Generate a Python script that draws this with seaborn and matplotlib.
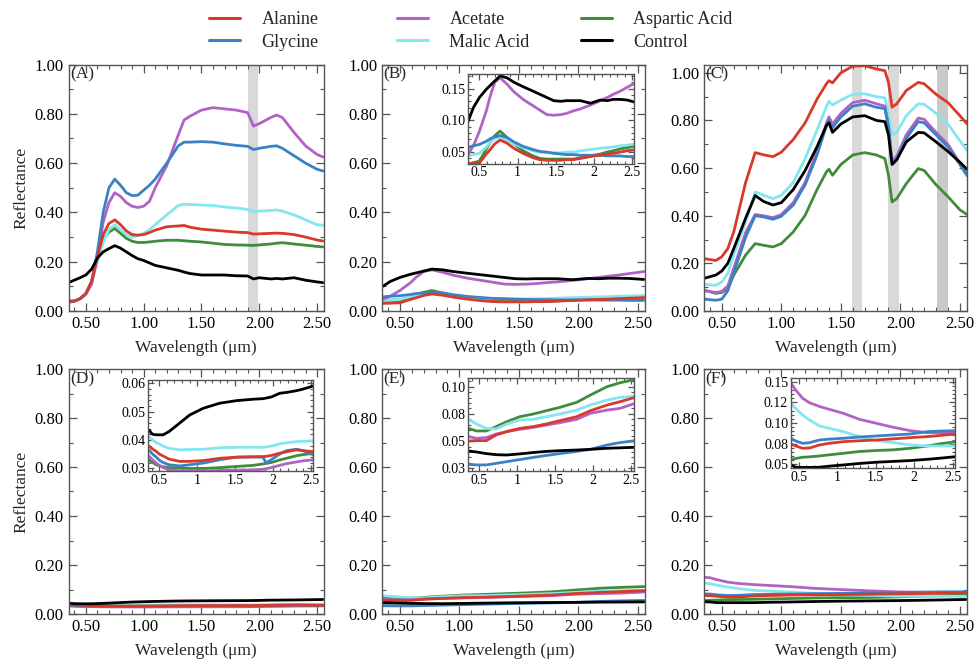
import matplotlib
matplotlib.use("Agg")
import numpy as np
import pandas as pd
import matplotlib.pyplot as plt
import seaborn as sns
from matplotlib.ticker import FixedLocator, FixedFormatter, MultipleLocator
from matplotlib.lines import Line2D

# ---------------- data ----------------
series_names = ["Alanine", "Glycine", "Acetate", "Malic Acid", "Aspartic Acid", "Control"]
series_colors = ["#d9392b", "#3b82c4", "#b262c6", "#84e6ee", "#3f8d3a", "#000000"]
draw_order = ["Aspartic Acid", "Malic Acid", "Acetate", "Glycine", "Alanine", "Control"]

# Panel A
wl_A = [0.35, 0.40, 0.45, 0.50, 0.55, 0.60, 0.65, 0.70, 0.75, 0.80, 0.85, 0.90, 0.95, 1.00, 1.05, 1.10,
        1.20, 1.30, 1.35, 1.40, 1.50, 1.60, 1.70, 1.80, 1.90, 1.95, 2.00, 2.10, 2.15, 2.20, 2.30, 2.40, 2.50, 2.55]
alanine_A = [0.04, 0.04, 0.05, 0.07, 0.12, 0.22, 0.31, 0.355, 0.37, 0.35, 0.325, 0.31, 0.308, 0.31, 0.318, 0.328,
             0.342, 0.345, 0.347, 0.34, 0.332, 0.328, 0.324, 0.32, 0.318, 0.312, 0.313, 0.315, 0.316, 0.315, 0.31, 0.30, 0.288, 0.284]
glycine_A = [0.035, 0.04, 0.05, 0.07, 0.12, 0.24, 0.40, 0.50, 0.535, 0.51, 0.48, 0.468, 0.47, 0.49, 0.51, 0.535,
             0.60, 0.67, 0.685, 0.685, 0.687, 0.685, 0.678, 0.672, 0.668, 0.655, 0.66, 0.668, 0.67, 0.66, 0.63, 0.60, 0.575, 0.568]
acetate_A = [0.038, 0.04, 0.05, 0.07, 0.11, 0.22, 0.36, 0.44, 0.48, 0.465, 0.44, 0.425, 0.42, 0.425, 0.445, 0.50,
             0.59, 0.715, 0.775, 0.79, 0.815, 0.825, 0.82, 0.815, 0.805, 0.75, 0.76, 0.785, 0.795, 0.785, 0.725, 0.67, 0.635, 0.625]
malic_A = [0.04, 0.04, 0.05, 0.065, 0.11, 0.20, 0.28, 0.33, 0.35, 0.33, 0.31, 0.30, 0.305, 0.315, 0.33, 0.35,
           0.39, 0.428, 0.433, 0.432, 0.43, 0.428, 0.422, 0.418, 0.412, 0.403, 0.405, 0.408, 0.41, 0.405, 0.39, 0.37, 0.35, 0.348]
aspartic_A = [0.04, 0.04, 0.05, 0.07, 0.12, 0.22, 0.29, 0.32, 0.335, 0.315, 0.295, 0.283, 0.278, 0.278, 0.28, 0.283,
              0.287, 0.287, 0.285, 0.283, 0.28, 0.275, 0.27, 0.268, 0.267, 0.266, 0.268, 0.272, 0.275, 0.277, 0.272, 0.267, 0.262, 0.26]
control_A = [0.115, 0.125, 0.135, 0.146, 0.17, 0.215, 0.24, 0.253, 0.265, 0.255, 0.24, 0.225, 0.212, 0.205, 0.195, 0.185,
             0.175, 0.165, 0.158, 0.152, 0.146, 0.146, 0.146, 0.143, 0.142, 0.13, 0.135, 0.13, 0.132, 0.13, 0.135, 0.125, 0.118, 0.115]

# Panel B
wl_B = [0.35, 0.42, 0.50, 0.59, 0.64, 0.70, 0.77, 0.86, 0.95, 1.07, 1.20, 1.29, 1.38, 1.47, 1.56, 1.64, 1.73,
        1.82, 1.95, 2.08, 2.17, 2.25, 2.34, 2.43, 2.55]
alanine_B = [0.032, 0.032, 0.033, 0.047, 0.054, 0.063, 0.069, 0.064, 0.056, 0.048, 0.041, 0.038, 0.037, 0.037, 0.037,
             0.038, 0.038, 0.040, 0.043, 0.045, 0.047, 0.048, 0.050, 0.052, 0.054]
glycine_B = [0.057, 0.060, 0.062, 0.067, 0.071, 0.074, 0.076, 0.073, 0.066, 0.059, 0.054, 0.051, 0.050, 0.048, 0.047,
             0.046, 0.046, 0.045, 0.045, 0.045, 0.044, 0.044, 0.044, 0.043, 0.043]
acetate_B = [0.046, 0.060, 0.083, 0.115, 0.138, 0.160, 0.167, 0.157, 0.145, 0.133, 0.123, 0.116, 0.109, 0.108, 0.109,
             0.111, 0.115, 0.118, 0.124, 0.131, 0.136, 0.141, 0.146, 0.152, 0.160]
malic_B = [0.044, 0.046, 0.048, 0.058, 0.065, 0.071, 0.074, 0.069, 0.063, 0.057, 0.052, 0.050, 0.049, 0.049, 0.049,
           0.050, 0.050, 0.052, 0.054, 0.056, 0.057, 0.058, 0.060, 0.061, 0.063]
aspartic_B = [0.032, 0.033, 0.036, 0.055, 0.065, 0.076, 0.083, 0.073, 0.063, 0.052, 0.044, 0.040, 0.039, 0.039, 0.039,
              0.039, 0.039, 0.041, 0.044, 0.047, 0.050, 0.052, 0.055, 0.057, 0.060]
control_B = [0.098, 0.120, 0.136, 0.149, 0.155, 0.162, 0.170, 0.167, 0.160, 0.153, 0.146, 0.141, 0.136, 0.131, 0.130,
             0.131, 0.131, 0.131, 0.127, 0.132, 0.131, 0.133, 0.133, 0.132, 0.128]

# Panel C
wl_C = [0.35, 0.45, 0.50, 0.55, 0.60, 0.70, 0.78, 0.85, 0.93, 1.00, 1.10, 1.20, 1.30, 1.38, 1.40, 1.43, 1.50,
        1.60, 1.70, 1.80, 1.87, 1.90, 1.93, 1.97, 2.05, 2.15, 2.20, 2.30, 2.40, 2.50, 2.56]
alanine_C = [0.22, 0.212, 0.228, 0.262, 0.332, 0.54, 0.665, 0.656, 0.648, 0.667, 0.72, 0.79, 0.89, 0.955, 0.967, 0.958,
             1.0, 1.028, 1.03, 1.016, 1.009, 0.96, 0.856, 0.87, 0.926, 0.96, 0.954, 0.91, 0.875, 0.82, 0.786]
glycine_C = [0.05, 0.045, 0.05, 0.085, 0.16, 0.31, 0.40, 0.395, 0.385, 0.398, 0.445, 0.53, 0.655, 0.78, 0.80, 0.77,
             0.815, 0.86, 0.87, 0.855, 0.85, 0.77, 0.62, 0.64, 0.725, 0.795, 0.79, 0.74, 0.69, 0.615, 0.568]
acetate_C = [0.085, 0.078, 0.082, 0.105, 0.18, 0.33, 0.405, 0.40, 0.392, 0.405, 0.455, 0.54, 0.67, 0.79, 0.815, 0.785,
             0.83, 0.875, 0.885, 0.87, 0.86, 0.78, 0.63, 0.65, 0.74, 0.81, 0.805, 0.75, 0.70, 0.62, 0.575]
malic_C = [0.112, 0.108, 0.122, 0.158, 0.235, 0.374, 0.50, 0.486, 0.472, 0.486, 0.54, 0.64, 0.76, 0.86, 0.88, 0.865,
           0.885, 0.91, 0.912, 0.90, 0.895, 0.83, 0.74, 0.75, 0.82, 0.87, 0.868, 0.83, 0.785, 0.715, 0.675]
aspartic_C = [0.088, 0.074, 0.078, 0.095, 0.151, 0.235, 0.283, 0.276, 0.269, 0.283, 0.332, 0.402, 0.51, 0.585, 0.595, 0.57,
              0.615, 0.655, 0.665, 0.655, 0.64, 0.57, 0.458, 0.472, 0.535, 0.598, 0.59, 0.53, 0.48, 0.425, 0.405]
control_C = [0.137, 0.151, 0.168, 0.20, 0.262, 0.39, 0.485, 0.46, 0.445, 0.455, 0.51, 0.59, 0.69, 0.78, 0.79, 0.75,
             0.785, 0.815, 0.82, 0.80, 0.795, 0.74, 0.615, 0.635, 0.71, 0.75, 0.748, 0.71, 0.67, 0.625, 0.595]

# Panel D
wl_D = [0.36, 0.41, 0.46, 0.50, 0.55, 0.63, 0.77, 0.90, 1.08, 1.30, 1.52, 1.74, 1.87, 1.91, 1.98, 2.09, 2.18, 2.31, 2.40, 2.55]
alanine_D = [0.0379, 0.0368, 0.0359, 0.035, 0.0343, 0.0332, 0.0324, 0.0324, 0.0327, 0.0335, 0.0339, 0.034, 0.0341,
             0.0342, 0.0345, 0.0353, 0.0358, 0.0365, 0.0362, 0.0358]
glycine_D = [0.0365, 0.035, 0.0339, 0.0328, 0.032, 0.0312, 0.0308, 0.0312, 0.0318, 0.033, 0.0339, 0.034, 0.0339,
             0.0318, 0.033, 0.035, 0.0362, 0.0367, 0.0362, 0.0345]
acetate_D = [0.0344, 0.033, 0.0318, 0.031, 0.0302, 0.0294, 0.029, 0.0288, 0.0289, 0.0292, 0.0293, 0.0294, 0.0296,
             0.0298, 0.0302, 0.031, 0.0316, 0.0322, 0.0326, 0.033]
malic_D = [0.0412, 0.040, 0.039, 0.0386, 0.0378, 0.037, 0.0365, 0.0366, 0.0367, 0.0372, 0.0374, 0.0374, 0.0374,
           0.0375, 0.0378, 0.0386, 0.039, 0.0394, 0.0395, 0.0396]
aspartic_D = [0.0329, 0.032, 0.0312, 0.0308, 0.0305, 0.0302, 0.030, 0.0299, 0.0299, 0.0302, 0.0306, 0.031, 0.0315,
              0.0317, 0.032, 0.0329, 0.0335, 0.0344, 0.0348, 0.0353]
control_D = [0.0435, 0.042, 0.0418, 0.0418, 0.0418, 0.043, 0.046, 0.0488, 0.0512, 0.053, 0.0539, 0.0544, 0.0546,
             0.0548, 0.0552, 0.0565, 0.0568, 0.0574, 0.058, 0.0592]

# Panel E
wl_E = [0.36, 0.46, 0.59, 0.72, 0.86, 1.03, 1.21, 1.38, 1.56, 1.78, 1.96, 2.18, 2.35, 2.55]
alanine_E = [0.0551, 0.0554, 0.0554, 0.0606, 0.0637, 0.0667, 0.0683, 0.0707, 0.0738, 0.0774, 0.0829, 0.0881, 0.0912, 0.0952]
glycine_E = [0.0337, 0.0331, 0.0331, 0.0345, 0.0361, 0.038, 0.040, 0.0418, 0.0435, 0.0455, 0.0474, 0.0514, 0.0536, 0.0554]
acetate_E = [0.0591, 0.0575, 0.0582, 0.0615, 0.0637, 0.0658, 0.0676, 0.0698, 0.0719, 0.075, 0.0805, 0.0835, 0.0851, 0.0897]
malic_E = [0.075, 0.0707, 0.0667, 0.0662, 0.0707, 0.0744, 0.075, 0.0774, 0.0799, 0.0835, 0.0881, 0.0927, 0.0952, 0.0964]
aspartic_E = [0.0667, 0.0643, 0.0643, 0.0683, 0.0728, 0.0774, 0.0799, 0.0829, 0.086, 0.0906, 0.0973, 0.105, 0.1086, 0.1117]
control_E = [0.0459, 0.045, 0.0435, 0.0425, 0.0422, 0.0432, 0.0445, 0.0455, 0.0462, 0.0468, 0.0474, 0.0484, 0.0488, 0.0493]

# Panel F
wl_F = [0.35, 0.40, 0.46, 0.55, 0.64, 0.77, 0.90, 1.08, 1.29, 1.51, 1.73, 1.95, 2.17, 2.35, 2.55]
alanine_F = [0.075, 0.0746, 0.0722, 0.0694, 0.0697, 0.0734, 0.0755, 0.0774, 0.0785, 0.0794, 0.0808, 0.0823, 0.0835, 0.085, 0.0867]
glycine_F = [0.082, 0.0815, 0.0782, 0.0754, 0.0762, 0.0794, 0.0805, 0.0815, 0.083, 0.0843, 0.0855, 0.0867, 0.0895, 0.0903, 0.0907]
acetate_F = [0.150, 0.148, 0.14, 0.13, 0.1246, 0.12, 0.1165, 0.1117, 0.1044, 0.0996, 0.0948, 0.0907, 0.0883, 0.0883, 0.0875]
malic_F = [0.126, 0.1238, 0.1177, 0.1097, 0.1036, 0.0964, 0.0935, 0.0895, 0.0835, 0.0786, 0.0762, 0.0734, 0.0722, 0.0722, 0.0722]
aspartic_F = [0.056, 0.056, 0.057, 0.0585, 0.059, 0.0601, 0.0615, 0.0633, 0.0655, 0.0667, 0.0675, 0.0694, 0.0722, 0.075, 0.0774]
control_F = [0.050, 0.0492, 0.0464, 0.0462, 0.0462, 0.0464, 0.0478, 0.0492, 0.051, 0.0525, 0.0535, 0.0545, 0.056, 0.0575, 0.0593]

bands_A = [(1.90, 1.99)]
bands_C = [(1.59, 1.68), (1.90, 1.99), (2.31, 2.40)]
panel_letters = ["(A)", "(B)", "(C)", "(D)", "(E)", "(F)"]

main_xticks = [0.5, 1.0, 1.5, 2.0, 2.5]
main_xticklabels = ["0.50", "1.00", "1.50", "2.00", "2.50"]
main_yticks = [0.0, 0.2, 0.4, 0.6, 0.8, 1.0]
main_yticklabels = ["0.00", "0.20", "0.40", "0.60", "0.80", "1.00"]
inset_xticks = [0.5, 1.0, 1.5, 2.0, 2.5]
inset_xticklabels = ["0.5", "1", "1.5", "2", "2.5"]
inset_yticks_B = [0.05, 0.10, 0.15]
inset_yticklabels_B = ["0.05", "0.10", "0.15"]
inset_yticks_D = [0.03, 0.04, 0.05, 0.06]
inset_yticklabels_D = ["0.03", "0.04", "0.05", "0.06"]
inset_yticks_E = [0.03, 0.055, 0.08, 0.105]
inset_yticklabels_E = ["0.03", "0.05", "0.08", "0.10"]
inset_yticks_F = [0.05, 0.075, 0.10, 0.125, 0.15]
inset_yticklabels_F = ["0.05", "0.08", "0.10", "0.12", "0.15"]

# ---------------- style ----------------
sns.set_style("ticks")
plt.rcParams['font.family'] = ['Liberation Serif', 'DejaVu Serif']
plt.rcParams['axes.edgecolor'] = '#555555'
plt.rcParams['axes.linewidth'] = 1.0

W, H = 974, 662
fig = plt.figure(figsize=(W / 100, H / 100), dpi=100)
palette = dict(zip(series_names, series_colors))


def box(l, t, r, b):
    return [l / W, 1 - b / H, (r - l) / W, (b - t) / H]


def make_df(wl, vals):
    frames = []
    for name, v in zip(series_names, vals):
        frames.append(pd.DataFrame({"Wavelength": wl, "Reflectance": v, "Sample": name}))
    return pd.concat(frames, ignore_index=True)


def draw_lines(ax, df, lw=2.0):
    sns.lineplot(data=df, x="Wavelength", y="Reflectance", hue="Sample", hue_order=draw_order,
                 palette=palette, estimator=None, sort=False, linewidth=lw, legend=False, ax=ax)


def style_ticks(ax, labelsize, major_len, minor_len):
    ax.tick_params(which='both', direction='in', top=True, right=True, colors='#555555',
                   labelcolor='black', labelsize=labelsize)
    ax.tick_params(which='major', length=major_len, width=0.9)
    ax.tick_params(which='minor', length=minor_len, width=0.8)


panels = [
    (wl_A, [alanine_A, glycine_A, acetate_A, malic_A, aspartic_A, control_A], (68.5, 64.5, 324, 311), (0, 1.0), bands_A),
    (wl_B, [alanine_B, glycine_B, acetate_B, malic_B, aspartic_B, control_B], (382, 64.5, 645, 311), (0, 1.0), []),
    (wl_C, [alanine_C, glycine_C, acetate_C, malic_C, aspartic_C, control_C], (704, 64.5, 967, 311), (0, 1.035), bands_C),
    (wl_D, [alanine_D, glycine_D, acetate_D, malic_D, aspartic_D, control_D], (68.5, 369, 324, 614), (0, 1.0), []),
    (wl_E, [alanine_E, glycine_E, acetate_E, malic_E, aspartic_E, control_E], (382, 369, 645, 614), (0, 1.0), []),
    (wl_F, [alanine_F, glycine_F, acetate_F, malic_F, aspartic_F, control_F], (704, 369, 967, 614), (0, 1.0), []),
]

dfs = []
for i, (wl, vals, bx, ylim, bands) in enumerate(panels):
    ax = fig.add_axes(box(*bx))
    df = make_df(wl, vals)
    dfs.append(df)
    for j, (b0, b1) in enumerate(bands):
        col = '#c9c9c9' if (i == 2 and j == 2) else '#d9d9d9'
        ax.axvspan(b0, b1, color=col, lw=0, zorder=0)
    draw_lines(ax, df)
    ax.set_xlim(0.35, 2.56)
    ax.set_ylim(*ylim)
    ax.xaxis.set_major_locator(FixedLocator(main_xticks))
    ax.xaxis.set_major_formatter(FixedFormatter(main_xticklabels))
    ax.yaxis.set_major_locator(FixedLocator(main_yticks))
    ax.yaxis.set_major_formatter(FixedFormatter(main_yticklabels))
    ax.xaxis.set_minor_locator(MultipleLocator(0.1))
    ax.yaxis.set_minor_locator(MultipleLocator(0.1))
    style_ticks(ax, 12, 6, 3)
    ax.set_xlabel("Wavelength (\u03bcm)", fontsize=12.5, labelpad=6)
    if i in (0, 3):
        ax.set_ylabel("Reflectance", fontsize=12.5, labelpad=4)
    else:
        ax.set_ylabel("")
    ax.text(0.006, 0.992, panel_letters[i], transform=ax.transAxes, ha='left', va='top', fontsize=12.5)

insets = [
    (1, (468, 74, 634, 163.5), (0.35, 2.52), (0.032, 0.173), inset_yticks_B, inset_yticklabels_B, 0.01),
    (3, (148, 380, 313, 471), (0.35, 2.53), (0.029, 0.0612), inset_yticks_D, inset_yticklabels_D, 0.002),
    (4, (468, 378, 634, 471), (0.35, 2.535), (0.0275, 0.113), inset_yticks_E, inset_yticklabels_E, 0.005),
    (5, (791, 378, 955, 468), (0.40, 2.53), (0.0455, 0.1545), inset_yticks_F, inset_yticklabels_F, 0.005),
]
for idx, bx, xl, yl, yt, ytl, ymin in insets:
    iax = fig.add_axes(box(*bx))
    iax.set_facecolor('white')
    draw_lines(iax, dfs[idx], lw=2.0)
    iax.set_xlim(*xl)
    iax.set_ylim(*yl)
    iax.xaxis.set_major_locator(FixedLocator(inset_xticks))
    iax.xaxis.set_major_formatter(FixedFormatter(inset_xticklabels))
    iax.yaxis.set_major_locator(FixedLocator(yt))
    iax.yaxis.set_major_formatter(FixedFormatter(ytl))
    iax.xaxis.set_minor_locator(MultipleLocator(0.1))
    iax.yaxis.set_minor_locator(MultipleLocator(ymin))
    style_ticks(iax, 10, 4.5, 2.5)
    iax.tick_params(axis='both', which='major', pad=2)
    iax.set_xlabel("")
    iax.set_ylabel("")

# legend in three columns
legend_cols = [[0, 1], [2, 3], [4, 5]]
col_x = [209, 397, 581]
for cx, idxs in zip(col_x, legend_cols):
    handles = [Line2D([0], [0], color=series_colors[k], lw=2.2) for k in idxs]
    labels = [series_names[k] for k in idxs]
    fig.legend(handles, labels, loc='upper left', bbox_to_anchor=(cx / W, 1 - 11 / H),
               frameon=False, fontsize=13, borderpad=0, borderaxespad=0,
               handlelength=1.7, handletextpad=1.2, labelspacing=0.32)

fig.savefig("out.png", dpi=100)
